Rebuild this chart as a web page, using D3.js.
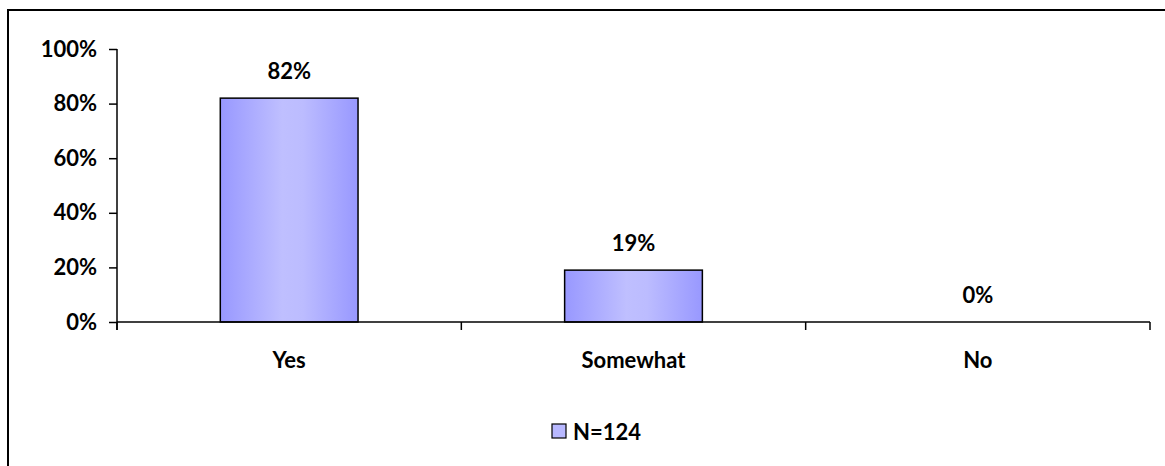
<!DOCTYPE html>
<html>
<head>
<meta charset="utf-8">
<script src="https://cdn.jsdelivr.net/npm/d3@7"></script>
<style>
  html, body { margin: 0; padding: 0; background: #fff; }
  svg { display: block; }
  text { font-family: Lato, "Open Sans", sans-serif; font-weight: 700; fill: #000; }
</style>
</head>
<body>
<svg id="chart" width="1165" height="466"></svg>
<script>
// Survey answers and share of respondents
const categories = ["Yes", "Somewhat", "No"];
const values = [0.82, 0.19, 0.00];
const yTicks = [0, 0.2, 0.4, 0.6, 0.8, 1.0];
const seriesName = "N=124";

const W = 1165, H = 466;
const plot = { left: 117, right: 1150, top: 49, bottom: 322 };
const FS = 22;

const svg = d3.select("#chart");

// outer frame (top and left edges visible)
svg.append("path")
  .attr("d", `M8,${H + 5} L8,10 L${W + 5},10`)
  .attr("fill", "none")
  .attr("stroke", "#000")
  .attr("stroke-width", 2);

// bar fill: light centre fading to darker edges
const defs = svg.append("defs");
const grad = defs.append("linearGradient")
  .attr("id", "barFill")
  .attr("x1", "0%").attr("x2", "100%")
  .attr("y1", "0%").attr("y2", "0%");
grad.append("stop").attr("offset", "0%").attr("stop-color", "#9898ff");
grad.append("stop").attr("offset", "45%").attr("stop-color", "#bfbfff");
grad.append("stop").attr("offset", "60%").attr("stop-color", "#bcbcff");
grad.append("stop").attr("offset", "100%").attr("stop-color", "#9898ff");

const x = d3.scaleBand()
  .domain(categories)
  .range([plot.left, plot.right])
  .paddingInner(0.6)
  .paddingOuter(0.3);

const xOuter = d3.scaleBand()
  .domain(categories)
  .range([plot.left, plot.right]);

const y = d3.scaleLinear()
  .domain([0, 1])
  .range([plot.bottom, plot.top]);

// y axis
const yAxis = svg.append("g")
  .attr("transform", `translate(${plot.left},0)`)
  .call(d3.axisLeft(y)
    .tickValues(yTicks)
    .tickSize(8)
    .tickPadding(12)
    .tickFormat(d3.format(".0%")));
yAxis.select(".domain")
  .attr("d", `M0,${plot.top}V${plot.bottom + 8}`)
  .attr("stroke", "#000").attr("stroke-width", 1.5);
yAxis.selectAll(".tick line").attr("stroke", "#000").attr("stroke-width", 1.5);
yAxis.selectAll(".tick text")
  .attr("font-size", FS)
  .attr("font-family", "Lato, sans-serif")
  .attr("font-weight", 700)
  .attr("fill", "#000");

// bars
svg.append("g").selectAll("rect")
  .data(values)
  .join("rect")
  .attr("x", (d, i) => x(categories[i]))
  .attr("width", x.bandwidth())
  .attr("y", d => y(d))
  .attr("height", d => y(0) - y(d))
  .attr("fill", "url(#barFill)")
  .attr("stroke", "#000")
  .attr("stroke-width", 1.5);

// x axis with category boundary ticks
const boundaries = categories.map(c => xOuter(c)).concat([plot.right]);
svg.append("line")
  .attr("x1", plot.left).attr("x2", plot.right)
  .attr("y1", plot.bottom).attr("y2", plot.bottom)
  .attr("stroke", "#000").attr("stroke-width", 1.5);
svg.append("g").selectAll("line")
  .data(boundaries)
  .join("line")
  .attr("x1", d => d).attr("x2", d => d)
  .attr("y1", plot.bottom).attr("y2", plot.bottom + 8)
  .attr("stroke", "#000").attr("stroke-width", 1.5);

// category labels
svg.append("g").selectAll("text")
  .data(categories)
  .join("text")
  .attr("x", d => xOuter(d) + xOuter.bandwidth() / 2)
  .attr("y", 368)
  .attr("text-anchor", "middle")
  .attr("font-size", FS)
  .text(d => d);

// value labels
svg.append("g").selectAll("text")
  .data(values)
  .join("text")
  .attr("x", (d, i) => x(categories[i]) + x.bandwidth() / 2)
  .attr("y", d => y(d) - 19)
  .attr("text-anchor", "middle")
  .attr("font-size", FS)
  .text(d => d3.format(".0%")(d));

// legend
const legend = svg.append("g").attr("transform", "translate(552,424)");
legend.append("rect")
  .attr("width", 14).attr("height", 14)
  .attr("fill", "#b8b8ff")
  .attr("stroke", "#000").attr("stroke-width", 1.2);
legend.append("text")
  .attr("x", 21).attr("y", 15.5)
  .attr("font-size", FS)
  .text(seriesName);
</script>
</body>
</html>
